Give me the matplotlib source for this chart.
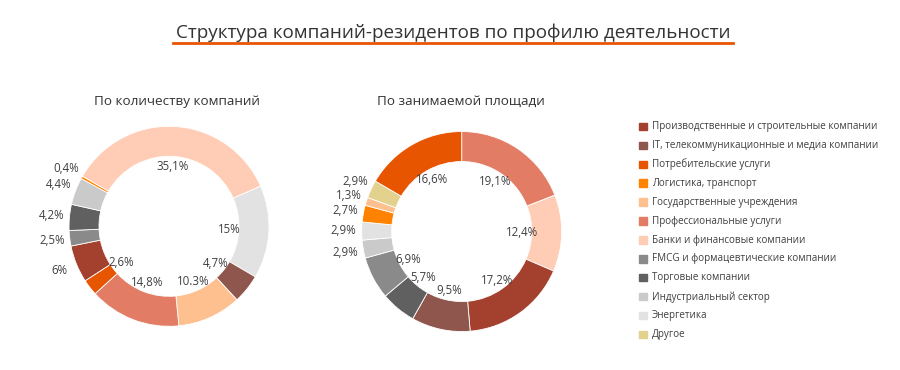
import matplotlib
matplotlib.use("Agg")
import matplotlib.pyplot as plt
import numpy as np
from matplotlib.patches import Rectangle
from matplotlib.lines import Line2D

plt.rcParams['font.family'] = ['Open Sans', 'DejaVu Sans']

# Categories (legend order) and colours
categories = ["Производственные и строительные компании",
              "IT, телекоммуникационные и медиа компании",
              "Потребительские услуги",
              "Логистика, транспорт",
              "Государственные учреждения",
              "Профессиональные услуги",
              "Банки и финансовые компании",
              "FMCG и формацевтические компании",
              "Торговые компании",
              "Индустриальный сектор",
              "Энергетика",
              "Другое"]
colors = ["#A3402E", "#8E564C", "#E85500", "#FF8200", "#FFC090", "#E27C64",
          "#FFCDB5", "#8A8A8A", "#606060", "#CACACA", "#E2E2E2", "#E3D28E"]

# Left donut: by number of companies (clockwise order)
count_cats = ["Банки и финансовые компании", "Энергетика",
              "IT, телекоммуникационные и медиа компании",
              "Государственные учреждения", "Профессиональные услуги",
              "Потребительские услуги",
              "Производственные и строительные компании",
              "FMCG и формацевтические компании", "Торговые компании",
              "Индустриальный сектор", "Логистика, транспорт"]
count_vals = [35.1, 15, 4.7, 10.3, 14.8, 2.6, 6, 2.5, 4.2, 4.4, 0.4]
count_labels = ["35,1%", "15%", "4,7%", "10.3%", "14,8%", "2,6%", "6%",
                "2,5%", "4,2%", "4,4%", "0,4%"]
count_outside = [False, False, False, False, False, False, True, True, True, True, True]

# Right donut: by occupied area (clockwise order)
area_cats = ["Профессиональные услуги", "Банки и финансовые компании",
             "Производственные и строительные компании",
             "IT, телекоммуникационные и медиа компании", "Торговые компании",
             "FMCG и формацевтические компании", "Индустриальный сектор",
             "Энергетика", "Логистика, транспорт", "Государственные учреждения",
             "Другое", "Потребительские услуги"]
area_vals = [19.1, 12.4, 17.2, 9.5, 5.7, 6.9, 2.9, 2.9, 2.7, 1.3, 2.9, 16.6]
area_labels = ["19,1%", "12,4%", "17,2%", "9,5%", "5,7%", "6,9%", "2,9%",
               "2,9%", "2,7%", "1,3%", "2,9%", "16,6%"]
area_outside = [False, False, False, False, False, False, True, True, True, True, True, False]

color_of = dict(zip(categories, colors))
text_col = "#404040"

fig = plt.figure(figsize=(9, 3.7), dpi=100)


# Draw one donut with its percentage labels
def donut(rect, cats, vals, labels, outside, start):
	ax = fig.add_axes(rect)
	wedges, _ = ax.pie(vals, colors=[color_of[c] for c in cats], startangle=start,
	                   counterclock=False, radius=1.0,
	                   wedgeprops=dict(width=0.3, edgecolor="white", linewidth=0.6))
	for w, lab, out in zip(wedges, labels, outside):
		mid = np.deg2rad((w.theta1 + w.theta2) / 2)
		r = 1.18 if out else 0.6
		ax.text(r * np.cos(mid), r * np.sin(mid), lab, ha="center", va="center",
		        fontsize=8.3, color=text_col)
	ax.set_xlim(-1.35, 1.35)
	ax.set_ylim(-1.35, 1.35)
	ax.set_aspect("equal")
	ax.axis("off")
	return ax


donut([0.0378, 0.0235, 0.3, 0.7297], count_cats, count_vals, count_labels, count_outside, 150)
donut([0.363, 0.0094, 0.3, 0.7297], area_cats, area_vals, area_labels, area_outside, 90)

# Titles
fig.text(0.504, 0.898, "Структура компаний-резидентов по профилю деятельности",
         ha="center", va="baseline", fontsize=13.6, color="#333333")
fig.add_artist(Line2D([0.192, 0.814], [0.884, 0.884], color="#E85500", linewidth=2,
                      transform=fig.transFigure))
fig.text(0.197, 0.725, "По количеству компаний", ha="center", va="center",
         fontsize=9.7, color="#333333")
fig.text(0.512, 0.725, "По занимаемой площади", ha="center", va="center",
         fontsize=9.7, color="#333333")

# Legend (manual, square markers)
y0 = 126.7
step = 18.9
for i, name in enumerate(categories):
	y = 1 - (y0 + i * step) / 370.0
	fig.add_artist(Rectangle((639.0 / 900, y - 3.5 / 370), 7.5 / 900, 7.5 / 370,
	                         color=colors[i], transform=fig.transFigure))
	fig.text(652.0 / 900, y, name, ha="left", va="center", fontsize=7.1, color=text_col)

fig.savefig("out.png", dpi=100, facecolor="white")
